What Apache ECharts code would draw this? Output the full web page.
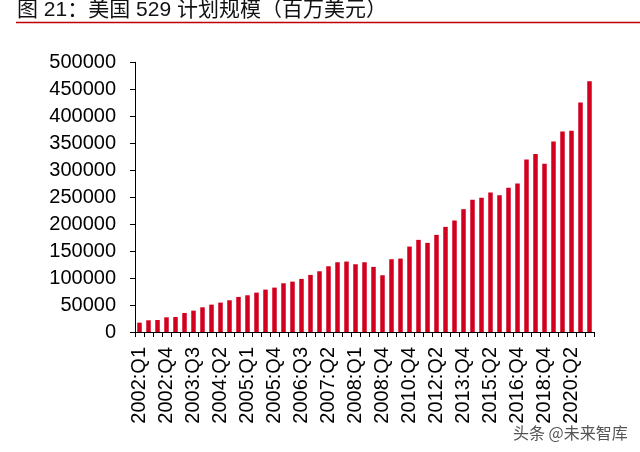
<!DOCTYPE html>
<html>
<head>
<meta charset="utf-8">
<script src="https://cdn.jsdelivr.net/npm/echarts@6/dist/echarts.min.js"></script>
<style>html,body{margin:0;padding:0;background:#fff;}#c{width:640px;height:452px;}</style>
</head>
<body>
<div id="c"></div>
<script>
const titleText = '图 21：美国 529 计划规模（百万美元）';
const watermarkText = '头条 @未来智库';
const categories = [
  '2002:Q1','2002:Q2','2002:Q3','2002:Q4','2003:Q1','2003:Q2','2003:Q3','2003:Q4',
  '2004:Q1','2004:Q2','2004:Q3','2004:Q4','2005:Q1','2005:Q2','2005:Q3','2005:Q4',
  '2006:Q1','2006:Q2','2006:Q3','2006:Q4','2007:Q1','2007:Q2','2007:Q3','2007:Q4',
  '2008:Q1','2008:Q2','2008:Q3','2008:Q4','2009:Q4','2010:Q2','2010:Q4','2011:Q2',
  '2011:Q4','2012:Q2','2012:Q4','2013:Q2','2013:Q4','2014:Q2','2014:Q4','2015:Q2',
  '2015:Q4','2016:Q2','2016:Q4','2017:Q4','2018:Q2','2018:Q4','2019:Q2','2019:Q4',
  '2020:Q2','2020:Q4','2021:Q2'
];
const values = [
  17300, 21700, 22300, 27200, 27800, 35300, 39600, 45800, 50700, 54500,
  58800, 65000, 68100, 73000, 78600, 82300, 90300, 93400, 98400, 105800,
  112600, 121900, 129300, 130600, 125600, 129300, 120700, 105200, 134900, 136100,
  158400, 170800, 165200, 180100, 194900, 206700, 227700, 245000, 248800, 258700,
  253700, 267300, 275400, 319900, 329800, 311900, 353300, 371900, 373100, 425700,
  464700
];
const yMin = 0, yMax = 500000, yStep = 50000;

const chart = echarts.init(document.getElementById('c'), null, {renderer: 'canvas'});
const font = '"Liberation Sans", Arial, "Noto Sans CJK SC", sans-serif';
chart.setOption({
  animation: false,
  backgroundColor: '#fff',
  graphic: [
    {type: 'text', left: 17, top: 0, style: {text: titleText, fill: '#111', font: '21px "Liberation Sans", "Noto Sans CJK SC", sans-serif'}},
    {type: 'line', shape: {x1: 16, y1: 22.5, x2: 640, y2: 22.5}, style: {stroke: '#C00000', lineWidth: 1.5}},
    {type: 'text', left: 512, top: 424, style: {text: watermarkText, fill: '#555', font: '16px "Noto Sans CJK SC", sans-serif', stroke: '#fff', lineWidth: 2}}
  ],
  grid: {left: 135, right: 46, top: 62.3, bottom: 120, containLabel: false},
  xAxis: {
    type: 'category',
    data: categories,
    boundaryGap: true,
    axisLine: {show: true, lineStyle: {color: '#000', width: 1}},
    axisTick: {show: true, interval: 0, length: 5, lineStyle: {color: '#000'}},
    axisLabel: {interval: 2, rotate: 90, margin: 15, color: '#000', fontSize: 20, fontFamily: font},
    splitLine: {show: false}
  },
  yAxis: {
    type: 'value',
    min: yMin, max: yMax, interval: yStep,
    axisLine: {show: true, lineStyle: {color: '#000', width: 1}},
    axisTick: {show: true, length: 5, lineStyle: {color: '#000'}},
    axisLabel: {margin: 19, color: '#000', fontSize: 20, fontFamily: font, formatter: function (v) { return String(v); }},
    splitLine: {show: false}
  },
  series: [{
    type: 'bar',
    data: values,
    barWidth: 4.5,
    itemStyle: {color: '#D2001E'}
  }]
});
</script>
</body>
</html>
